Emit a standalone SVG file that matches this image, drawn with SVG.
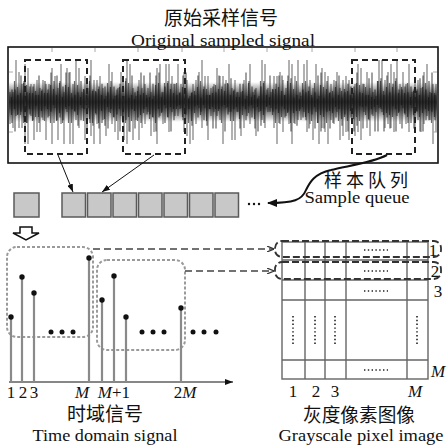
<svg xmlns="http://www.w3.org/2000/svg" width="447" height="446" viewBox="0 0 447 446">
<style>
.t{font-family:"Liberation Serif","Noto Sans CJK SC",serif;fill:#111;}
.cn{font-size:19px;text-anchor:middle;}
.en{font-size:17px;text-anchor:middle;}
.lb{font-size:17px;text-anchor:middle;}
.it{font-style:italic;}
.sq{fill:#c8c8c8;stroke:#5a5a5a;stroke-width:1.5;}
.stem{stroke:#8a8a8a;stroke-width:2.2;}
.dot{fill:#111;}
.gbox{fill:none;stroke:#9a9a9a;stroke-width:2;stroke-dasharray:3 2;}
.kbox{fill:none;stroke:#222;stroke-width:2;stroke-dasharray:6 4;}
.rbox{fill:none;stroke:#333;stroke-width:1.8;stroke-dasharray:7 3;}
.grid{fill:none;stroke:#666;stroke-width:1.4;}
.dd{fill:none;stroke:#222;stroke-width:1.6;stroke-dasharray:1.4 2.4;}
.tick{stroke:#aaa;stroke-width:1;}
</style>
<defs>
<marker id="ah" markerWidth="8" markerHeight="6" refX="8" refY="3" orient="auto" markerUnits="userSpaceOnUse"><path d="M0,0 L8,3 L0,6 z" fill="#111"/></marker>
<marker id="ah2" markerWidth="10" markerHeight="8" refX="9" refY="4" orient="auto" markerUnits="userSpaceOnUse"><path d="M0,0 L10,4 L0,8 z" fill="#111"/></marker>
<marker id="ah3" markerWidth="7" markerHeight="6" refX="7" refY="3" orient="auto" markerUnits="userSpaceOnUse"><path d="M0,0 L7,3 L0,6" fill="none" stroke="#333" stroke-width="1.2"/></marker>
<path id="wave" d="M10 92V124M13 92V128M16 60V116M19 72V128M22 84V128M25 64V144M28 68V144M31 84V116M34 84V140M37 80V132M40 88V132M43 80V120M46 84V140M49 84V116M52 68V144M55 76V108M58 88V140M61 64V124M64 92V144M67 68V112M70 72V144M73 84V144M76 60V120M79 68V128M82 92V108M85 76V140M88 88V108M91 60V136M94 80V144M97 80V124M100 76V144M103 88V120M106 96V136M109 64V112M112 72V124M115 96V132M118 88V140M121 72V116M124 96V140M127 60V144M130 64V132M133 88V140M136 96V120M139 80V140M142 88V128M145 84V124M148 88V112M151 92V136M154 96V132M157 68V144M160 64V116M163 92V124M166 64V108M169 64V132M172 76V112M175 84V116M178 64V116M181 84V108M184 72V132M187 80V136M190 96V144M193 84V140M196 80V124M199 72V108M202 60V128M205 76V108M208 76V140M211 88V116M214 84V112M217 68V116M220 76V120M223 76V144M226 80V108M229 64V112M232 88V140M235 80V140M238 92V112M241 92V136M244 80V128M247 96V116M250 64V124M253 92V108M256 88V136M259 96V112M262 60V120M265 64V128M268 88V112M271 92V108M274 76V128M277 76V144M280 72V124M283 80V132M286 88V116M289 60V124M292 64V144M295 76V124M298 60V120M301 96V120M304 64V112M307 60V132M310 80V124M313 88V140M316 64V112M319 96V144M322 68V128M325 72V132M328 76V144M331 84V120M334 80V124M337 72V112M340 88V140M343 80V136M346 76V132M349 80V140M352 88V120M355 84V136M358 64V132M361 68V140M364 84V112M367 72V128M370 88V136M373 92V116M376 96V112M379 60V108M382 60V112M385 80V128M388 72V124M391 64V128M394 72V132M397 60V116M400 84V124M403 72V108M406 84V124M409 64V132M412 92V108M415 80V128M418 80V120M421 88V132M424 72V124M427 64V116M430 92V120M433 84V144M436 84V132"/>
<linearGradient id="core" x1="0" y1="0" x2="0" y2="1"><stop offset="0" stop-color="#111" stop-opacity="0"/><stop offset="0.35" stop-color="#111" stop-opacity="0.7"/><stop offset="0.5" stop-color="#111" stop-opacity="0.85"/><stop offset="0.65" stop-color="#111" stop-opacity="0.7"/><stop offset="1" stop-color="#111" stop-opacity="0"/></linearGradient>
<clipPath id="sclip"><rect x="9" y="48" width="428" height="114"/></clipPath>
</defs>

<g id="signal-panel">
<text class="t cn" x="221" y="25">原始采样信号</text>
<text class="t en" x="223" y="46" textLength="184" lengthAdjust="spacingAndGlyphs">Original sampled signal</text>
<g clip-path="url(#sclip)">
<use href="#wave" stroke="#3a3a3a" stroke-width="1.3" opacity="0.6"/>
<use href="#wave" transform="translate(448,30.6) scale(-1,0.7)" stroke="#222" stroke-width="1.3" opacity="0.65"/>
<use href="#wave" transform="translate(-1.5,0) translate(0,51) scale(1,0.5)" stroke="#111" stroke-width="1.2" opacity="0.6"/>
<rect x="9" y="82" width="428" height="40" fill="url(#core)"/>
</g>
<path class="tick" d="M52 48v4M95 48v4M138 48v4M182 48v4M224 48v4M267 48v4M312 48v4M355 48v4M397 48v4M9 72h4M9 132h4M437 72h-4M437 132h-4"/>
<rect x="8" y="47" width="430" height="116" fill="none" stroke="#111" stroke-width="1.6"/>
<rect class="kbox" x="25" y="60" width="62" height="94"/>
<rect class="kbox" x="123" y="60" width="62" height="94"/>
<rect class="kbox" x="352" y="60" width="63" height="94"/>
</g>

<g id="sample-queue">
<rect class="sq" x="14" y="193" width="25" height="24"/>
<rect class="sq" x="62" y="193" width="23.5" height="24"/>
<rect class="sq" x="87.5" y="193" width="23.5" height="24"/>
<rect class="sq" x="113" y="193" width="23.5" height="24"/>
<rect class="sq" x="138.5" y="193" width="23.5" height="24"/>
<rect class="sq" x="164" y="193" width="23.5" height="24"/>
<rect class="sq" x="189.5" y="193" width="23.5" height="24"/>
<rect class="sq" x="215" y="193" width="23.5" height="24"/>
<circle class="dot" cx="249" cy="204" r="1.2"/>
<circle class="dot" cx="254" cy="204" r="1.2"/>
<circle class="dot" cx="259" cy="204" r="1.2"/>
<polygon points="20,227 32,227 32,233 39,233 26,240 13,233 20,233" fill="#fff" stroke="#111" stroke-width="1.5"/>
<text class="t cn" x="366" y="187" style="font-size:18px" textLength="84" lengthAdjust="spacing">样本队列</text>
<text class="t en" x="357" y="203" style="font-size:16px" textLength="105" lengthAdjust="spacingAndGlyphs">Sample queue</text>
</g>

<g id="time-signal">
<path d="M9 382H233" stroke="#111" stroke-width="1.2" marker-end="url(#ah)"/>
<rect class="gbox" x="7" y="247" width="86" height="90" rx="10"/>
<rect class="gbox" x="97" y="260" width="88" height="90" rx="10"/>
<path class="stem" d="M11 382V317M22 382V277M34 382V293M89 382V258M102 382V300M114 382V276M126 382V317M181 382V308"/>
<circle class="dot" cx="11" cy="317" r="2.7"/>
<circle class="dot" cx="22" cy="277" r="2.7"/>
<circle class="dot" cx="34" cy="293" r="2.7"/>
<circle class="dot" cx="89" cy="258" r="2.7"/>
<circle class="dot" cx="102" cy="300" r="2.7"/>
<circle class="dot" cx="114" cy="276" r="2.7"/>
<circle class="dot" cx="126" cy="317" r="2.7"/>
<circle class="dot" cx="181" cy="308" r="2.7"/>
<circle class="dot" cx="51" cy="332" r="2.5"/><circle class="dot" cx="62" cy="332" r="2.5"/><circle class="dot" cx="73" cy="332" r="2.5"/>
<circle class="dot" cx="142" cy="332" r="2.5"/><circle class="dot" cx="153" cy="332" r="2.5"/><circle class="dot" cx="164" cy="332" r="2.5"/>
<circle class="dot" cx="193" cy="332" r="2.5"/><circle class="dot" cx="204" cy="332" r="2.5"/><circle class="dot" cx="216" cy="332" r="2.5"/>
<text class="t lb" x="11" y="398">1</text>
<text class="t lb" x="23" y="398">2</text>
<text class="t lb" x="34" y="398">3</text>
<text class="t lb it" x="82" y="398">M</text>
<text class="t lb" x="114" y="398"><tspan font-style="italic">M</tspan>+1</text>
<text class="t lb" x="185" y="398">2<tspan font-style="italic">M</tspan></text>
<text class="t cn" x="105" y="421">时域信号</text>
<text class="t en" x="105" y="441" style="font-size:16px" textLength="145" lengthAdjust="spacingAndGlyphs">Time domain signal</text>
</g>

<g id="pixel-image">
<rect class="grid" x="282" y="242" width="146" height="137"/>
<path class="grid" d="M305 242V379M325 242V379M346 242V379M407 242V379M282 260H428M282 280H428M282 300H428M282 360H428"/>
<rect class="rbox" x="275" y="241" width="166" height="16" rx="7"/>
<rect class="rbox" x="275" y="262" width="166" height="17" rx="7"/>
<path class="dd" d="M364 250H388M364 271H388M364 291H388M364 370H388M293 316V344M315 316V344M335 316V344M417 316V344"/>
<text class="t lb" x="433" y="256">1</text>
<text class="t lb" x="435" y="277">2</text>
<text class="t lb" x="438" y="297">3</text>
<text class="t lb it" x="438" y="377">M</text>
<text class="t lb" x="293" y="397">1</text>
<text class="t lb" x="316" y="397">2</text>
<text class="t lb" x="335" y="397">3</text>
<text class="t lb it" x="415" y="397">M</text>
<text class="t cn" x="359" y="422" textLength="112" lengthAdjust="spacingAndGlyphs">灰度像素图像</text>
<text class="t en" x="361" y="441" style="font-size:16px" textLength="165" lengthAdjust="spacingAndGlyphs">Grayscale pixel image</text>
</g>

<g id="connectors">
<path d="M58 155L73 192" stroke="#111" stroke-width="1" fill="none" marker-end="url(#ah)"/>
<path d="M154 155L102 192" stroke="#111" stroke-width="1" fill="none" marker-end="url(#ah)"/>
<path d="M387 155C372 163 346 166 331 170C314 174 310 182 306 190C302 200 294 203 268 203" stroke="#111" stroke-width="2" fill="none" marker-end="url(#ah2)"/>
<path d="M93 249H274" stroke="#444" stroke-width="1.3" stroke-dasharray="7 4" fill="none" marker-end="url(#ah3)"/>
<path d="M185 271H274" stroke="#444" stroke-width="1.3" stroke-dasharray="7 4" fill="none" marker-end="url(#ah3)"/>
</g>
</svg>
